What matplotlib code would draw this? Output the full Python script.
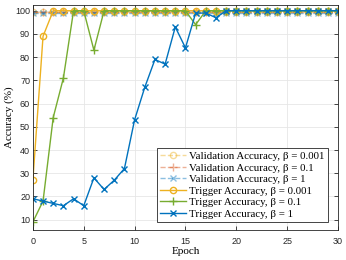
import matplotlib
matplotlib.use("Agg")
import matplotlib.pyplot as plt
import numpy as np

epochs = list(range(0, 31))
val_b0001 = [99.5] * 31
val_b01 = [99.5] * 31
val_b1 = [99] * 31
trig_b0001 = [27, 89] + [100] * 29
trig_b01 = [9, 18, 54, 71, 100, 100, 83, 100, 100, 100, 100, 100, 100, 100, 100, 100,
            94, 100, 100, 100, 100, 100, 100, 100, 100, 100, 100, 100, 100, 100, 100]
trig_b1 = [19, 18, 17, 16, 19, 16, 28, 23, 27, 32, 53, 67, 79, 77, 93, 84,
           99, 99, 97, 100, 100, 100, 100, 100, 100, 100, 100, 100, 100, 100, 100]
labels = ['Validation Accuracy, β = 0.001',
          'Validation Accuracy, β = 0.1',
          'Validation Accuracy, β = 1',
          'Trigger Accuracy, β = 0.001',
          'Trigger Accuracy, β = 0.1',
          'Trigger Accuracy, β = 1']

blue = '#0072BD'
red = '#D95319'
yellow = '#EDB120'
green = '#77AC30'

fig = plt.figure(figsize=(3.46, 2.60), dpi=100)
ax = fig.add_axes([0.095, 0.115, 0.882, 0.866])

lw = 1.0
ax.plot(epochs, val_b0001, '--', color=yellow, alpha=0.45, marker='o', mfc='none', ms=4.5, lw=lw, label=labels[0])
ax.plot(epochs, val_b01, '--', color=red, alpha=0.45, marker='+', ms=5.5, lw=lw, label=labels[1])
ax.plot(epochs, val_b1, '--', color=blue, alpha=0.45, marker='x', ms=4, lw=lw, label=labels[2])
ax.plot(epochs, trig_b0001, '-', color=yellow, marker='o', mfc='none', ms=4.5, lw=lw, label=labels[3])
ax.plot(epochs, trig_b01, '-', color=green, marker='+', ms=6, lw=lw, label=labels[4])
ax.plot(epochs, trig_b1, '-', color=blue, marker='x', ms=4, lw=lw, label=labels[5])

ax.set_xlim(0, 30)
ax.set_ylim(5.5, 102.5)
ax.set_xticks(range(0, 31, 5))
ax.set_yticks(range(10, 101, 10))
ax.tick_params(direction='in', labelsize=6.5, length=3, width=0.6, colors='#262626', top=True, right=True)
ax.tick_params(axis='x', pad=5)
ax.tick_params(axis='y', pad=2)
for t in ax.get_xticklabels() + ax.get_yticklabels():
    t.set_family('Liberation Sans')
ax.grid(True, color='#e6e6e6', lw=0.6)
ax.set_axisbelow(True)
for s in ax.spines.values():
    s.set_color('#262626')
    s.set_linewidth(0.6)

ax.set_xlabel('Epoch', family='Liberation Serif', fontsize=8, labelpad=1)
ax.set_ylabel('Accuracy (%)', family='Liberation Serif', fontsize=8)
ax.yaxis.set_label_coords(-0.062, 0.5)

leg = ax.legend(loc='lower right', prop={'family': 'Liberation Serif', 'size': 7.8},
                frameon=True, fancybox=False, edgecolor='#262626', framealpha=1,
                handlelength=2.4, handletextpad=0.3, borderpad=0.3, labelspacing=0.18,
                borderaxespad=0, bbox_to_anchor=(0.967, 0.036))
leg.get_frame().set_linewidth(0.6)

fig.savefig('out.png', dpi=100)
